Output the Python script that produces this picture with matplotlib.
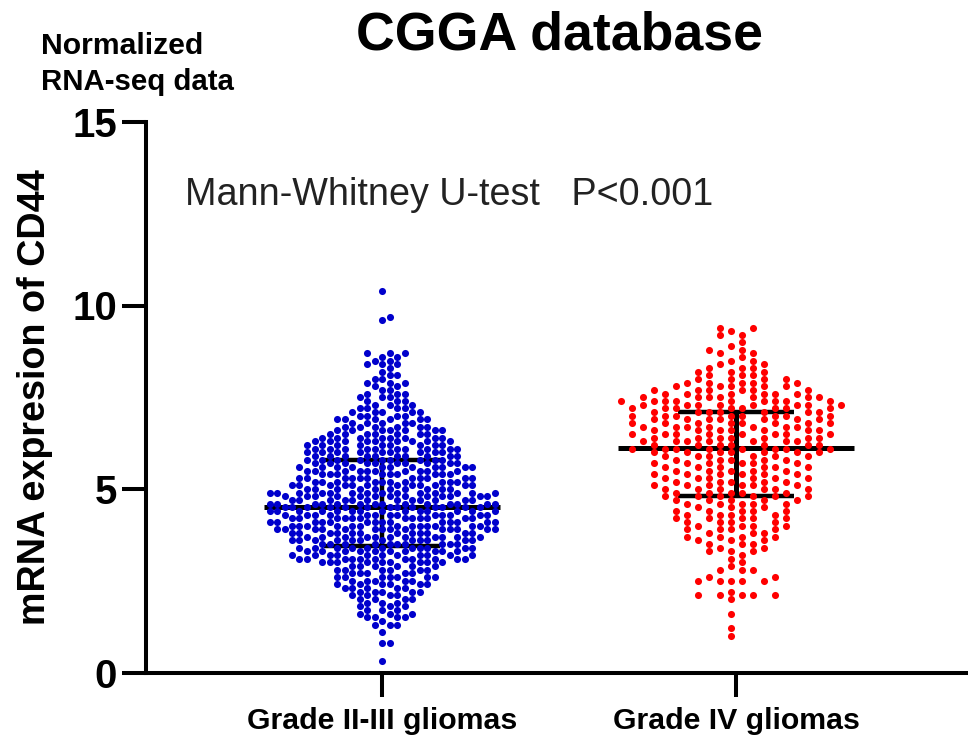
import numpy as np
from matplotlib import pyplot as plt

plt.rcParams['font.family'] = ['Liberation Sans', 'DejaVu Sans']

groups = ['Grade II-III gliomas', 'Grade IV gliomas']

# expression level -> number of samples
low_levels = [0.3, 0.8, 1.1, 1.3, 1.4, 1.5, 1.6, 1.7, 1.8, 1.9, 2.0, 2.1, 2.2, 2.3, 2.4, 2.5, 2.6, 2.7, 2.8, 2.9,
              3.0, 3.1, 3.2, 3.3, 3.4, 3.5, 3.6, 3.7, 3.8, 3.9, 4.0, 4.1, 4.2, 4.3, 4.4, 4.5, 4.6, 4.7, 4.8, 4.9,
              5.0, 5.1, 5.2, 5.3, 5.4, 5.5, 5.6, 5.7, 5.8, 5.9, 6.0, 6.1, 6.2, 6.3, 6.4, 6.5, 6.6, 6.7, 6.8, 6.9,
              7.0, 7.1, 7.2, 7.3, 7.4, 7.5, 7.6, 7.7, 7.8, 7.9, 8.0, 8.1, 8.2, 8.3, 8.4, 8.5, 8.6, 8.7,
              9.6, 9.7, 10.4]
low_counts = [1, 2, 1, 3, 1, 4, 3, 3, 3, 3, 4, 4, 5, 5, 6, 5, 7, 5, 6, 6,
              9, 11, 11, 10, 11, 10, 12, 11, 12, 14, 13, 14, 12, 13, 14, 13, 14, 12, 13, 14,
              10, 12, 10, 11, 9, 10, 11, 10, 9, 10, 9, 10, 9, 9, 8, 7, 7, 6, 5, 6,
              4, 5, 4, 3, 3, 3, 3, 2, 2, 3, 2, 2, 1, 1, 3, 2, 2, 3,
              1, 1, 1]

high_levels = [1.0, 1.2, 1.6, 2.0, 2.1, 2.2, 2.5, 2.6, 2.8, 2.9, 3.0, 3.1, 3.2, 3.3, 3.4, 3.5, 3.6, 3.7, 3.8, 3.9,
               4.0, 4.1, 4.2, 4.3, 4.4, 4.5, 4.6, 4.7, 4.8, 4.9, 5.0, 5.1, 5.2, 5.3, 5.4, 5.5, 5.6, 5.7, 5.8, 5.9,
               6.0, 6.1, 6.2, 6.3, 6.4, 6.5, 6.6, 6.7, 6.8, 6.9, 7.0, 7.1, 7.2, 7.3, 7.4, 7.5, 7.6, 7.7, 7.8, 7.9,
               8.0, 8.1, 8.2, 8.3, 8.4, 8.5, 8.6, 8.7, 8.8, 8.9, 9.0, 9.2, 9.3, 9.4]
high_counts = [1, 1, 1, 1, 5, 1, 5, 2, 3, 1, 1, 1, 1, 3, 2, 3, 3, 4, 3, 4,
               4, 4, 5, 4, 5, 3, 5, 5, 6, 5, 6, 6, 5, 6, 6, 5, 6, 6, 5, 6,
               7, 8, 7, 7, 7, 8, 7, 7, 8, 7, 8, 7, 8, 8, 9, 7, 6, 6, 5, 5,
               4, 3, 3, 3, 2, 2, 1, 2, 2, 1, 1, 2, 1, 2]

low_median, low_q1, low_q3 = 4.5, 3.45, 5.8
high_median, high_q1, high_q3 = 6.13, 4.8, 7.1

annotation = 'Mann-Whitney U-test   P<0.001'


def swarm(levels, counts, center, spacing, min_gap, even, spread):
    # each row takes n of the free columns nearest the middle, spaced out evenly
    offsets = []
    if even:
        for i in range(30):
            offsets += [-i - 0.5, i + 0.5]
    else:
        offsets.append(0)
        for i in range(1, 30):
            offsets += [i, -i]
    last = {o: -100.0 for o in offsets}
    x = []
    y = []
    for level, n in zip(levels, counts):
        free = [o for o in offsets if level - last[o] >= min_gap]
        m = max(n, int(round(n * spread)))
        chosen = sorted(free[:m])
        idx = np.round(np.linspace(0, m - 1, n)).astype(int) if n > 1 else [0]
        if n == 1:
            chosen = free[:1]
        for i in idx:
            o = chosen[i]
            last[o] = level
            x.append(center + o * spacing)
            y.append(level)
    return np.array(x), np.array(y)


fig = plt.figure(figsize=(9.68, 7.36), dpi=100)
ax = fig.add_axes([146 / 968, 1 - 672.5 / 736, 822 / 968, 550.5 / 736])
ax.set_xlim(1 - 236 / 354, 2 + 232 / 354)
ax.set_ylim(0, 15)

x, y = swarm(low_levels, low_counts, 1, 7.5 / 354, 0.17, False, 1.25)
ax.scatter(x, y, s=26, color='#0000cc', linewidths=0, zorder=3, clip_on=False)
x, y = swarm(high_levels, high_counts, 2, 11 / 354, 0.19, True, 1.45)
ax.scatter(x, y, s=26, color='#ff0000', linewidths=0, zorder=3, clip_on=False)

# median and quartile bars sit under the dots
ax.hlines(low_median, 1 - 0.333, 1 + 0.333, color='black', lw=3.6, zorder=2)
ax.hlines([low_q1, low_q3], 1 - 0.165, 1 + 0.165, color='black', lw=3.2, zorder=2)
ax.vlines(1, low_q1, low_q3, color='black', lw=3.2, zorder=2)
ax.hlines(high_median, 2 - 0.333, 2 + 0.333, color='black', lw=3.6, zorder=2)
ax.hlines([high_q1, high_q3], 2 - 0.165, 2 + 0.165, color='black', lw=3.2, zorder=2)
ax.vlines(2, high_q1, high_q3, color='black', lw=3.6, zorder=2)

ax.spines['top'].set_visible(False)
ax.spines['right'].set_visible(False)
ax.spines['left'].set_linewidth(2.9)
ax.spines['bottom'].set_linewidth(2.9)

ax.set_yticks([0, 5, 10, 15])
ax.set_xticks([1, 2])
ax.set_xticklabels(groups)
ax.tick_params(axis='y', length=17, width=2.9, labelsize=29, pad=4)
ax.tick_params(axis='x', length=17, width=2.9, labelsize=21.8, pad=8)
for label in ax.get_xticklabels() + ax.get_yticklabels():
    label.set_fontweight('bold')

fig.text(35 / 968, 1 - 397 / 736, 'mRNA expresion of CD44', rotation=90, fontsize=27.2,
         fontweight='bold', ha='center', va='center')
fig.text(559 / 968, 1 - 50 / 736, 'CGGA database', fontsize=38.6, fontweight='bold',
         ha='center', va='baseline')
fig.text(41 / 968, 1 - 54 / 736, 'Normalized', fontsize=21.7, fontweight='bold', va='baseline')
fig.text(41 / 968, 1 - 90 / 736, 'RNA-seq data', fontsize=21.2, fontweight='bold', va='baseline')
fig.text(185 / 968, 1 - 205 / 736, annotation, fontsize=27.2, va='baseline', color='#222222')

fig.savefig('out.png', dpi=100)
